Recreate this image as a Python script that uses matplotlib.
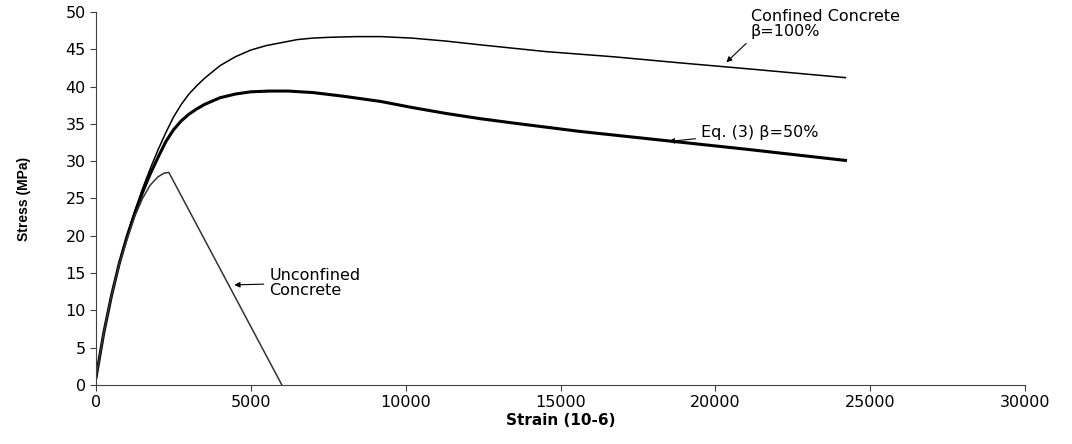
import matplotlib
matplotlib.use("Agg")
import matplotlib.pyplot as plt

plt.rcParams['font.family'] = ['DejaVu Sans']

# strain (10-6) and stress (MPa)
conf_x = [0, 250, 500, 750, 1000, 1250, 1500, 1750, 2000, 2250, 2500, 2750,
          3000, 3250, 3500, 4000, 4500, 5000, 5500, 6000, 6500, 7000, 7500,
          8400, 9200, 10200, 11300, 12400, 14500, 16700, 18800, 21000, 24200]
conf_y = [1.0, 7.0, 12.0, 16.3, 20.0, 23.3, 26.3, 29.0, 31.5, 33.8, 35.9, 37.6,
          39.0, 40.1, 41.1, 42.8, 44.0, 44.9, 45.5, 45.9, 46.3, 46.5, 46.6,
          46.7, 46.7, 46.5, 46.1, 45.6, 44.7, 44.0, 43.2, 42.4, 41.2]

eq3_x = [0, 250, 500, 750, 1000, 1250, 1500, 1750, 2000, 2250, 2500, 2750,
         3000, 3250, 3500, 4000, 4500, 5000, 5600, 6200, 7000, 8000, 9200,
         10200, 11300, 12400, 13500, 15600, 18300, 21000, 24200]
eq3_y = [1.0, 7.0, 12.0, 16.3, 19.9, 23.0, 25.8, 28.3, 30.5, 32.6, 34.2, 35.4,
         36.3, 37.0, 37.6, 38.5, 39.0, 39.3, 39.4, 39.4, 39.2, 38.7, 38.0,
         37.2, 36.4, 35.7, 35.1, 34.0, 32.8, 31.6, 30.1]

unc_x = [0, 250, 500, 750, 1000, 1250, 1500, 1750, 2000, 2200, 2350, 6000]
unc_y = [1.0, 7.0, 12.0, 16.2, 19.5, 22.6, 25.0, 26.8, 27.9, 28.4, 28.5, 0.0]

fig = plt.figure(figsize=(10.72, 4.44), dpi=100)
ax = fig.add_axes([0.0896, 0.133, 0.8666, 0.840])

ax.plot(conf_x, conf_y, color='black', lw=1.1)
ax.plot(eq3_x, eq3_y, color='black', lw=2.2)
ax.plot(unc_x, unc_y, color='#333333', lw=1.1)

ax.set_xlim(0, 30000)
ax.set_ylim(0, 50)
ax.set_xticks(range(0, 30001, 5000))
ax.set_yticks(range(0, 51, 5))
ax.tick_params(labelsize=11.5, length=4, width=0.8, color='#404040')
for s in ['top', 'right']:
    ax.spines[s].set_visible(False)
for s in ['left', 'bottom']:
    ax.spines[s].set_color('#404040')

ax.set_xlabel('Strain (10-6)', fontsize=11, fontweight='bold', labelpad=2)
ax.set_ylabel('Stress (MPa)', fontsize=10, fontweight='bold', family='Liberation Sans',
              labelpad=25)

arrow = dict(arrowstyle='-|>', color='black', lw=0.8, mutation_scale=8)
ax.annotate('Confined Concrete\n\u03b2=100%', xy=(20290, 43.0), xytext=(21150, 46.4),
            fontsize=11.5, va='bottom', ha='left', linespacing=1.0,
            arrowprops=dict(arrow, relpos=(0.0, 0.0)))
ax.annotate('Eq. (3) \u03b2=50%', xy=(18409, 32.6), xytext=(19535, 33.9),
            fontsize=11.5, va='center', ha='left', arrowprops=arrow)
ax.annotate('Unconfined\nConcrete', xy=(4376, 13.4), xytext=(5590, 13.7),
            fontsize=11.5, va='center', ha='left', linespacing=1.0, arrowprops=arrow)

fig.savefig('out.png', dpi=100)
